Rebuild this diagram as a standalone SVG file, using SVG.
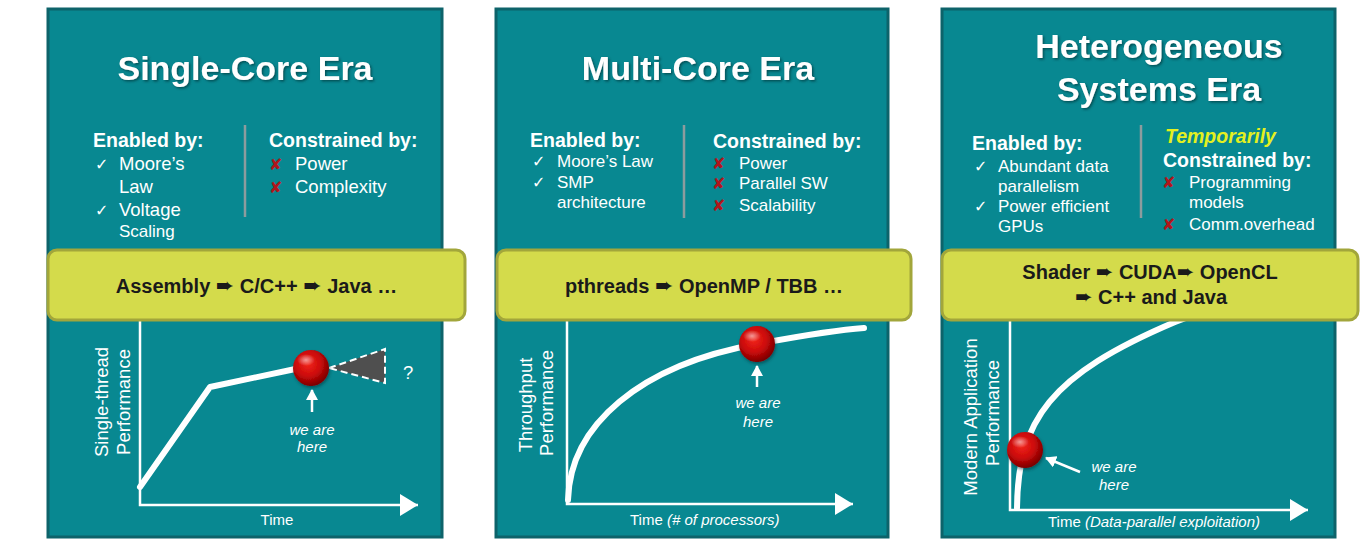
<svg xmlns="http://www.w3.org/2000/svg" width="1362" height="541" viewBox="0 0 1362 541">
  <defs>
    <style>
      .panel { fill: #088891; stroke: #0d636a; stroke-width: 3; }
      .title { font-family: "Liberation Sans", Arial, sans-serif; font-weight: bold; font-size: 34px; fill: #ffffff; text-anchor: middle; }
      .head { font-family: "Liberation Sans", Arial, sans-serif; font-weight: bold; font-size: 19.5px; fill: #ffffff; }
      .item { font-family: "Liberation Sans", Arial, sans-serif; font-size: 18.5px; fill: #ffffff; }
      .item-sm { font-family: "Liberation Sans", Arial, sans-serif; font-size: 17px; fill: #ffffff; }
      .check { font-family: "DejaVu Sans", sans-serif; font-size: 16px; fill: #ffffff; }
      .cross { font-family: "DejaVu Sans", sans-serif; font-size: 16px; fill: #b0151b; }
      .temp { font-family: "Liberation Sans", Arial, sans-serif; font-weight: bold; font-style: italic; font-size: 19.5px; fill: #e4f020; }
      .divider { stroke: #8c9c9e; stroke-width: 2.5; }
      .band { fill: #d4db4b; stroke: #a2a63b; stroke-width: 3; }
      .band-text { font-family: "Liberation Sans", Arial, sans-serif; font-weight: bold; font-size: 20px; fill: #1a1a1a; text-anchor: middle; }
      .arw { font-family: "DejaVu Sans", sans-serif; font-size: 22px; }
      .arw-sm { font-family: "DejaVu Sans", sans-serif; font-size: 21px; }
      .axis { fill: none; stroke: #ffffff; stroke-width: 2.5; }
      .curve { fill: none; stroke: #ffffff; stroke-width: 6; stroke-linejoin: round; stroke-linecap: round; }
      .ylabel { font-family: "Liberation Sans", Arial, sans-serif; font-size: 18.5px; fill: #ffffff; text-anchor: middle; }
      .xlabel { font-family: "Liberation Sans", Arial, sans-serif; font-size: 15px; fill: #ffffff; }
      .note { font-family: "Liberation Sans", Arial, sans-serif; font-style: italic; font-size: 15px; fill: #ffffff; text-anchor: middle; }
      .pointer { fill: none; stroke: #ffffff; stroke-width: 2.5; }
    </style>
    <filter id="title-shadow" x="-10%" y="-30%" width="120%" height="160%">
      <feDropShadow dx="1.5" dy="1.5" stdDeviation="1.2" flood-color="#00373b" flood-opacity="0.7"/>
    </filter>
    <filter id="ball-shadow" x="-40%" y="-40%" width="180%" height="180%">
      <feDropShadow dx="1" dy="2" stdDeviation="1.5" flood-color="#002a2d" flood-opacity="0.5"/>
    </filter>
    <radialGradient id="ball-fill" cx="0.42" cy="0.38" r="0.62">
      <stop offset="0" stop-color="#f2261c"/>
      <stop offset="0.55" stop-color="#cc0a0a"/>
      <stop offset="1" stop-color="#7c0000"/>
    </radialGradient>
    <radialGradient id="ball-shine" cx="0.5" cy="0.5" r="0.5">
      <stop offset="0" stop-color="#ffffff" stop-opacity="0.55"/>
      <stop offset="1" stop-color="#ffffff" stop-opacity="0"/>
    </radialGradient>
    <marker id="axis-head" markerUnits="userSpaceOnUse" markerWidth="20" markerHeight="24" refX="18" refY="11" orient="auto">
      <path d="M0,0 L18,11 L0,22 z" fill="#ffffff"/>
    </marker>
    <marker id="pointer-head" markerUnits="userSpaceOnUse" markerWidth="12" markerHeight="12" refX="10" refY="6" orient="auto">
      <path d="M0,0 L11,6 L0,12 z" fill="#ffffff"/>
    </marker>
    <g id="ball">
      <circle r="18" fill="url(#ball-fill)" filter="url(#ball-shadow)"/>
      <ellipse cx="-5" cy="-8" rx="9" ry="6" fill="url(#ball-shine)"/>
    </g>
  </defs>

  <rect width="1362" height="541" fill="#ffffff"/>

  <!-- Single-core era -->
  <g id="panel-single">
    <rect class="panel" x="48" y="9" width="394" height="528"/>
    <text class="title" x="245" y="80" filter="url(#title-shadow)">Single-Core Era</text>
    <text class="head" x="93" y="147">Enabled by:</text>
    <text class="check" x="95" y="170">✓</text>
    <text class="item" x="119" y="170">Moore’s</text>
    <text class="item" x="119" y="193">Law</text>
    <text class="check" x="95" y="216">✓</text>
    <text class="item" x="119" y="216">Voltage</text>
    <text class="item-sm" x="119" y="237">Scaling</text>
    <line class="divider" x1="245" y1="125" x2="245" y2="217"/>
    <text class="head" x="269" y="147">Constrained by:</text>
    <text class="cross" x="269" y="170">✘</text>
    <text class="item" x="295" y="170">Power</text>
    <text class="cross" x="269" y="193">✘</text>
    <text class="item" x="295" y="193">Complexity</text>

    <path class="axis" d="M140 318 V505 H418" marker-end="url(#axis-head)"/>
    <polyline class="curve" points="140,487 210,387 300,368"/>
    <polygon points="329,368 385,349 385,383" fill="#4f4f4f" stroke="#ffffff" stroke-width="2" stroke-dasharray="7 4"/>
    <use href="#ball" x="311" y="368"/>
    <text class="item" x="403" y="379">?</text>
    <text class="note" x="312" y="435">we are</text>
    <text class="note" x="312" y="452">here</text>
    <text class="ylabel" transform="translate(108 402) rotate(-90)">Single-thread</text>
    <text class="ylabel" transform="translate(130 402) rotate(-90)">Performance</text>
    <text class="xlabel" x="277" y="525" text-anchor="middle">Time</text>

    <rect class="band" x="48" y="250" width="417" height="70" rx="9"/>
    <text class="band-text" x="256.5" y="293">Assembly <tspan class="arw">➨</tspan> C/C++  <tspan class="arw">➨</tspan> Java …</text>
  </g>

  <!-- Multi-core era -->
  <g id="panel-multi">
    <rect class="panel" x="496" y="9" width="392" height="528"/>
    <text class="title" x="698" y="80" filter="url(#title-shadow)">Multi-Core Era</text>
    <text class="head" x="530" y="147">Enabled by:</text>
    <text class="check" x="532" y="167">✓</text>
    <text class="item-sm" x="557" y="167">Moore’s Law</text>
    <text class="check" x="532" y="188">✓</text>
    <text class="item-sm" x="557" y="188">SMP</text>
    <text class="item-sm" x="557" y="208">architecture</text>
    <line class="divider" x1="684" y1="125" x2="684" y2="218"/>
    <text class="head" x="713" y="148">Constrained by:</text>
    <text class="cross" x="712" y="169">✘</text>
    <text class="item-sm" x="739" y="169">Power</text>
    <text class="cross" x="712" y="189">✘</text>
    <text class="item-sm" x="739" y="189">Parallel SW</text>
    <text class="cross" x="712" y="211">✘</text>
    <text class="item-sm" x="739" y="211">Scalability</text>

    <path class="axis" d="M567 318 V504 H853" marker-end="url(#axis-head)"/>
    <path class="curve" d="M568 500 C570 425 640 365 757 344 C800 336 835 330 864 328"/>
    <use href="#ball" x="757" y="344"/>
    <text class="note" x="758" y="408">we are</text>
    <text class="note" x="758" y="427">here</text>
    <text class="ylabel" transform="translate(532 405) rotate(-90)">Throughput</text>
    <text class="ylabel" transform="translate(553 403) rotate(-90)">Performance</text>
    <text class="xlabel" x="630" y="525">Time <tspan font-style="italic">(# of processors)</tspan></text>

    <rect class="band" x="497" y="250" width="414" height="70" rx="9"/>
    <text class="band-text" x="704" y="293">pthreads <tspan class="arw">➨</tspan> OpenMP / TBB …</text>
  </g>

  <!-- Heterogeneous systems era -->
  <g id="panel-hetero">
    <rect class="panel" x="942" y="9" width="393" height="528"/>
    <text class="title" x="1159" y="58" filter="url(#title-shadow)">Heterogeneous</text>
    <text class="title" x="1159" y="101" filter="url(#title-shadow)">Systems Era</text>
    <text class="head" x="972" y="150">Enabled by:</text>
    <text class="check" x="974" y="172">✓</text>
    <text class="item-sm" x="998" y="172">Abundant data</text>
    <text class="item-sm" x="998" y="192">parallelism</text>
    <text class="check" x="974" y="212">✓</text>
    <text class="item-sm" x="998" y="212">Power efficient</text>
    <text class="item-sm" x="998" y="232">GPUs</text>
    <line class="divider" x1="1141" y1="125" x2="1141" y2="218"/>
    <text class="temp" x="1165" y="143">Temporarily</text>
    <text class="head" x="1163" y="167">Constrained by:</text>
    <text class="cross" x="1162" y="188">✘</text>
    <text class="item-sm" x="1189" y="188">Programming</text>
    <text class="item-sm" x="1189" y="208">models</text>
    <text class="cross" x="1162" y="230">✘</text>
    <text class="item-sm" x="1189" y="230">Comm.overhead</text>

    <path class="axis" d="M1010 318 V510 H1308" marker-end="url(#axis-head)"/>
    <path class="curve" d="M1017 508 C1018 420 1050 375 1175 322 C1205 310 1230 302 1255 296"/>
    <use href="#ball" x="1025" y="450"/>
    <text class="note" x="1114" y="472">we are</text>
    <text class="note" x="1114" y="490">here</text>
    <text class="ylabel" transform="translate(977 417) rotate(-90)">Modern Application</text>
    <text class="ylabel" transform="translate(999 413) rotate(-90)">Performance</text>
    <text class="xlabel" x="1048" y="527">Time <tspan font-style="italic">(Data-parallel exploitation)</tspan></text>

    <rect class="band" x="942" y="250" width="416" height="70" rx="9"/>
    <text class="band-text" x="1150" y="279">Shader <tspan class="arw-sm">➨</tspan> CUDA<tspan class="arw-sm">➨</tspan> OpenCL</text>
    <text class="band-text" x="1151" y="304"><tspan class="arw-sm">➨</tspan> C++ and Java</text>
  </g>

  <!-- "we are here" pointers -->
  <g id="connectors">
    <path class="pointer" d="M312 412 V390" marker-end="url(#pointer-head)"/>
    <path class="pointer" d="M757 387 V366" marker-end="url(#pointer-head)"/>
    <path class="pointer" d="M1080 472 L1046 458" marker-end="url(#pointer-head)"/>
  </g>
</svg>
